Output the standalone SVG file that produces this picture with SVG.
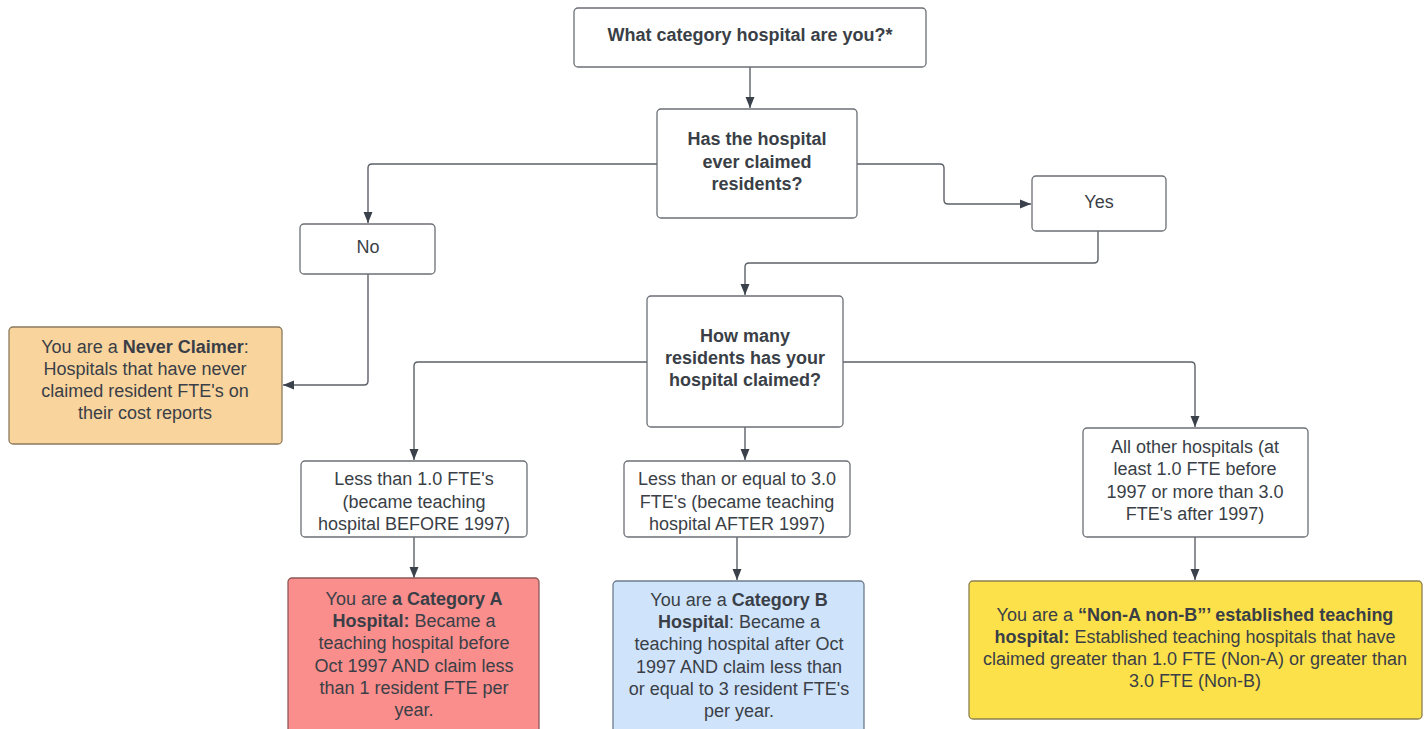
<svg xmlns="http://www.w3.org/2000/svg" width="1427" height="729" viewBox="0 0 1427 729">
<style>
  .box { fill: #ffffff; stroke: #6b6f75; stroke-width: 1.3; }
  .t { font-family: "Liberation Sans", Arial, sans-serif; font-size: 18px; fill: #3a3f47; text-anchor: middle; }
  .b { font-weight: bold; }
  .c { fill: none; stroke: #5c6067; stroke-width: 1.4; }
</style>
<defs>
  <marker id="ah" markerUnits="userSpaceOnUse" markerWidth="12" markerHeight="12" viewBox="0 0 12 12" refX="11" refY="6" orient="auto">
    <path d="M0,1.5 L11,6 L0,10.5 Z" fill="#3a414a"/>
  </marker>
</defs>
<rect width="1427" height="729" fill="#ffffff"/>

<g id="connectors">
  <path class="c" marker-end="url(#ah)" d="M750,67 V108"/>
  <path class="c" marker-end="url(#ah)" d="M657,164 H372 Q368,164 368,168 V223"/>
  <path class="c" marker-end="url(#ah)" d="M857,164 H940 Q944,164 944,168 V200 Q944,204 948,204 H1031"/>
  <path class="c" marker-end="url(#ah)" d="M1098,231 V259 Q1098,263 1094,263 H749 Q745,263 745,267 V295"/>
  <path class="c" marker-end="url(#ah)" d="M368,274 V381 Q368,385 364,385 H283"/>
  <path class="c" marker-end="url(#ah)" d="M647,362 H418 Q414,362 414,366 V460"/>
  <path class="c" marker-end="url(#ah)" d="M745,427 V460"/>
  <path class="c" marker-end="url(#ah)" d="M843,362 H1191 Q1195,362 1195,366 V427"/>
  <path class="c" marker-end="url(#ah)" d="M414,537 V578"/>
  <path class="c" marker-end="url(#ah)" d="M737,537 V580"/>
  <path class="c" marker-end="url(#ah)" d="M1195,537 V580"/>
</g>

<g id="start">
  <rect class="box" x="574" y="8" width="352" height="59" rx="4"/>
  <text class="t b" x="750" y="41">What category hospital are you?*</text>
</g>

<g id="q-claimed">
  <rect class="box" x="657" y="109" width="200" height="109" rx="4"/>
  <text class="t b" x="757"><tspan x="757" y="145">Has the hospital</tspan><tspan x="757" y="168">ever claimed</tspan><tspan x="757" y="190">residents?</tspan></text>
</g>

<g id="no">
  <rect class="box" x="300" y="224" width="135" height="50" rx="4"/>
  <text class="t" x="368" y="253">No</text>
</g>

<g id="yes">
  <rect class="box" x="1032" y="176" width="134" height="55" rx="4"/>
  <text class="t" x="1099" y="208">Yes</text>
</g>

<g id="never-claimer">
  <rect x="9" y="327" width="273" height="117" rx="4" fill="#f9d49d" stroke="#8a7a5e" stroke-width="1.3"/>
  <text class="t" x="145"><tspan x="145" y="353">You are a <tspan class="b">Never Claimer</tspan>:</tspan><tspan x="145" y="375">Hospitals that have never</tspan><tspan x="145" y="397">claimed resident FTE's on</tspan><tspan x="145" y="419">their cost reports</tspan></text>
</g>

<g id="q-how-many">
  <rect class="box" x="647" y="296" width="196" height="131" rx="4"/>
  <text class="t b" x="745"><tspan x="745" y="342">How many</tspan><tspan x="745" y="364">residents has your</tspan><tspan x="745" y="386">hospital claimed?</tspan></text>
</g>

<g id="less-1">
  <rect class="box" x="301" y="461" width="226" height="76" rx="4"/>
  <text class="t" x="414"><tspan x="414" y="485">Less than 1.0 FTE's</tspan><tspan x="414" y="508">(became teaching</tspan><tspan x="414" y="530">hospital BEFORE 1997)</tspan></text>
</g>

<g id="less-3">
  <rect class="box" x="624" y="461" width="226" height="76" rx="4"/>
  <text class="t" x="737"><tspan x="737" y="485">Less than or equal to 3.0</tspan><tspan x="737" y="508">FTE's (became teaching</tspan><tspan x="737" y="530">hospital AFTER 1997)</tspan></text>
</g>

<g id="all-other">
  <rect class="box" x="1083" y="428" width="225" height="109" rx="4"/>
  <text class="t" x="1195"><tspan x="1195" y="453">All other hospitals (at</tspan><tspan x="1195" y="475">least 1.0 FTE before</tspan><tspan x="1195" y="498">1997 or more than 3.0</tspan><tspan x="1195" y="520">FTE's after 1997)</tspan></text>
</g>

<g id="category-a">
  <rect x="288" y="578" width="251" height="170" rx="4" fill="#f98e8c" stroke="#8d5a5a" stroke-width="1.3"/>
  <text class="t" x="414"><tspan x="414" y="605">You are <tspan class="b">a Category A</tspan></tspan><tspan x="414" y="627"><tspan class="b">Hospital:</tspan> Became a</tspan><tspan x="414" y="649">teaching hospital before</tspan><tspan x="414" y="672">Oct 1997 AND claim less</tspan><tspan x="414" y="694">than 1 resident FTE per</tspan><tspan x="414" y="716">year.</tspan></text>
</g>

<g id="category-b">
  <rect x="613" y="581" width="251" height="167" rx="4" fill="#cfe3fb" stroke="#6f7c8c" stroke-width="1.3"/>
  <text class="t" x="739"><tspan x="739" y="606">You are a <tspan class="b">Category B</tspan></tspan><tspan x="739" y="628"><tspan class="b">Hospital</tspan>: Became a</tspan><tspan x="739" y="650">teaching hospital after Oct</tspan><tspan x="739" y="673">1997 AND claim less than</tspan><tspan x="739" y="695">or equal to 3 resident FTE's</tspan><tspan x="739" y="717">per year.</tspan></text>
</g>

<g id="non-a-non-b">
  <rect x="969" y="581" width="453" height="138" rx="4" fill="#fde14a" stroke="#8c8150" stroke-width="1.3"/>
  <text class="t" x="1195"><tspan x="1195" y="621">You are a <tspan class="b">“Non-A non-B”’ established teaching</tspan></tspan><tspan x="1195" y="643"><tspan class="b">hospital:</tspan> Established teaching hospitals that have</tspan><tspan x="1195" y="665">claimed greater than 1.0 FTE (Non-A) or greater than</tspan><tspan x="1195" y="687">3.0 FTE (Non-B)</tspan></text>
</g>
</svg>
